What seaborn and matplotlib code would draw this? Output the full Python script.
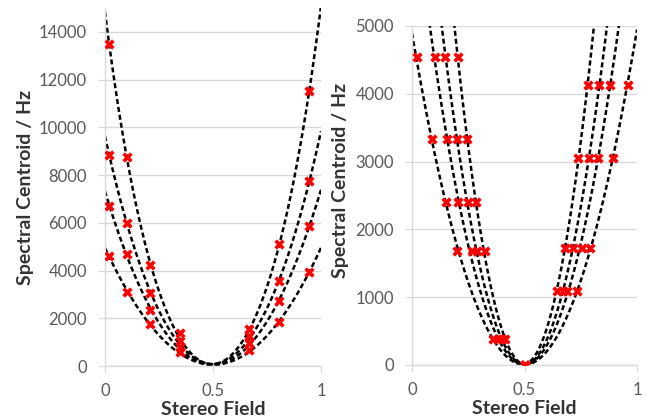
import numpy as np
import pandas as pd
import seaborn as sns
import matplotlib
matplotlib.use('Agg')
import matplotlib.pyplot as plt

# left panel: marker positions and the four series (highest to lowest)
left_x = [0.02, 0.1, 0.21, 0.345, 0.668, 0.807, 0.946]
left_s1 = [13480, 8750, 4230, 1370, 1550, 5110, 11540]
left_s2 = [8840, 6000, 3070, 1060, 1270, 3560, 7750]
left_s3 = [6720, 4690, 2350, 810, 960, 2740, 5870]
left_s4 = [4610, 3110, 1760, 600, 680, 1860, 3950]
# all trend curves meet at the centre
centre_x = [0.5, 0.5]
centre_y = [0, 0]

# right panel: shared levels, one x list per curve (widest to narrowest)
right_y = [4550, 3330, 2400, 1680, 380, 0, 1090, 1730, 3050, 4130]
right_x1 = [0.02, 0.087, 0.15, 0.201, 0.361, 0.5, 0.732, 0.791, 0.892, 0.959]
right_x2 = [0.10, 0.154, 0.203, 0.265, 0.383, 0.5, 0.69, 0.754, 0.825, 0.88]
right_x3 = [0.147, 0.199, 0.25, 0.287, 0.398, 0.5, 0.672, 0.717, 0.787, 0.831]
right_x4 = [0.204, 0.243, 0.283, 0.324, 0.413, 0.5, 0.643, 0.68, 0.739, 0.781]

x_ticks = [0, 0.5, 1]
x_ticklabels = ['0', '0.5', '1']

sns.set_style('white')
plt.rcParams['font.family'] = ['Lato', 'DejaVu Sans']

grey = '#d9d9d9'
line_kws = {'color': 'black', 'lw': 1.8, 'ls': (0, (2, 1.2)), 'zorder': 2}
mark = dict(marker='X', s=55, color='#ff0000', linewidth=0, zorder=3)

fig = plt.figure(figsize=(6.46, 4.18), dpi=100)
ax1 = fig.add_axes([0.1625, 0.1244, 0.3344, 0.8565])
ax2 = fig.add_axes([0.6378, 0.1268, 0.3483, 0.8110])

# left chart
ax1.set_xlim(0, 1)
ax1.set_ylim(0, 15000)
for s in [left_s1, left_s2, left_s3, left_s4]:
    fit = pd.DataFrame({'x': left_x + centre_x, 'y': s + centre_y})
    sns.regplot(data=fit, x='x', y='y', order=4, ci=None, truncate=False,
                scatter=False, line_kws=line_kws, ax=ax1)
    sns.scatterplot(x=left_x, y=s, ax=ax1, **mark)
ax1.set_yticks(range(0, 14001, 2000))

# right chart
ax2.set_xlim(0, 1)
ax2.set_ylim(0, 5000)
for xs in [right_x1, right_x2, right_x3, right_x4]:
    sns.regplot(x=xs, y=right_y, order=2, ci=None, truncate=False, scatter=False,
                line_kws=line_kws, ax=ax2)
    sns.scatterplot(x=xs, y=right_y, ax=ax2, **mark)
ax2.set_yticks(range(0, 5001, 1000))

for ax in [ax1, ax2]:
    ax.set_xticks(x_ticks)
    ax.set_xticklabels(x_ticklabels)
    ax.grid(axis='y', color=grey, lw=1)
    ax.set_axisbelow(True)
    for side in ['top', 'right']:
        ax.spines[side].set_visible(False)
    for side in ['left', 'bottom']:
        ax.spines[side].set_color(grey)
        ax.spines[side].set_linewidth(1)
    ax.tick_params(axis='y', direction='out', length=5, color=grey, pad=8,
                   labelsize=12, labelcolor='#595959', left=True)
    ax.tick_params(axis='x', direction='out', length=5, color=grey, pad=7,
                   labelsize=12, labelcolor='#595959', bottom=True)
    ax.set_xlabel('Stereo Field', fontsize=14, fontweight='bold', color='#333333')
    ax.set_ylabel('Spectral Centroid / Hz', fontsize=14, fontweight='bold', color='#333333')

ax1.xaxis.set_label_coords(0.5, -0.097)
ax2.xaxis.set_label_coords(0.5, -0.103)
ax1.yaxis.set_label_coords(-0.33, 0.5)
ax2.yaxis.set_label_coords(-0.28, 0.545)

plt.savefig('out.png', dpi=100)
